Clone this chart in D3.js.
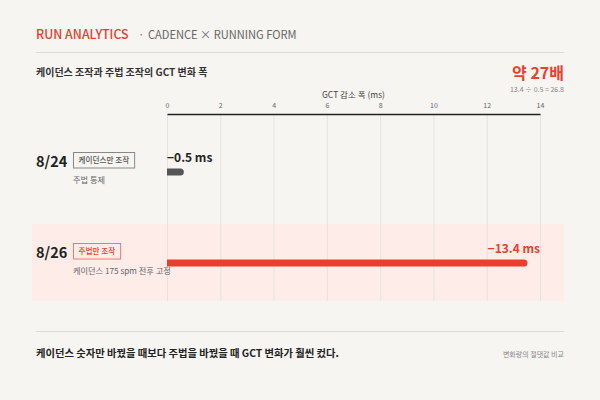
<!DOCTYPE html>
<html>
<head>
<meta charset="utf-8">
<script src="https://cdn.jsdelivr.net/npm/d3@7"></script>
<style>
  html, body { margin: 0; padding: 0; background: #f6f5f2; }
  svg { display: block; font-family: "Noto Sans CJK KR", "Noto Sans", sans-serif; }
</style>
</head>
<body>
<svg id="chart"></svg>
<script>
const dates = ["8/24", "8/26"];
const badges = ["케이던스만 조작", "주법만 조작"];
const notes = ["주법 통제", "케이던스 175 spm 전후 고정"];
const gctDrop = [0.5, 13.4];
const valueLabels = ["−0.5 ms", "−13.4 ms"];
const tickValues = [0, 2, 4, 6, 8, 10, 12, 14];

const RED = "#e5412d";

drawChart();

function drawChart() {
    const width = 600, height = 400;
    const svg = d3.select("#chart").attr("width", width).attr("height", height);

    svg.append("rect").attr("width", width).attr("height", height).attr("fill", "#f6f5f2");

    // header
    svg.append("text").attr("x", 36).attr("y", 39).attr("font-size", 12.4).attr("font-weight", 500)
        .attr("fill", RED).text("RUN ANALYTICS");
    svg.append("text").attr("x", 138).attr("y", 39).attr("font-size", 11.5).attr("fill", "#777").text("·");
    svg.append("text").attr("x", 148).attr("y", 39).attr("font-size", 11.1).attr("fill", "#666")
        .text("CADENCE × RUNNING FORM");

    svg.append("line").attr("x1", 36).attr("x2", 564).attr("y1", 52.5).attr("y2", 52.5)
        .attr("stroke", "#dddad5").attr("stroke-width", 1);

    svg.append("text").attr("x", 36).attr("y", 75.5).attr("font-size", 10).attr("font-weight", 700)
        .attr("fill", "#333").text("케이던스 조작과 주법 조작의 GCT 변화 폭");

    svg.append("text").attr("x", 564).attr("y", 78.5).attr("text-anchor", "end")
        .attr("font-size", 16).attr("font-weight", 700).attr("fill", RED).text("약 27배");
    svg.append("text").attr("x", 564).attr("y", 91.5).attr("text-anchor", "end")
        .attr("font-size", 7).attr("fill", "#888").text("13.4 ÷ 0.5 = 26.8");

    // scales
    const x = d3.scaleLinear().domain([0, 14]).range([167, 540]);
    const y = d3.scaleBand().domain(dates).range([133, 315]);
    const plotBottom = 301;

    // highlight band for the second row
    svg.append("rect")
        .attr("x", 32).attr("width", 532)
        .attr("y", y(dates[1])).attr("height", plotBottom - y(dates[1]))
        .attr("fill", "#fdece8");

    // grid
    svg.append("g").selectAll("line").data(tickValues).join("line")
        .attr("x1", d => x(d) + 0.5).attr("x2", d => x(d) + 0.5)
        .attr("y1", 114).attr("y2", plotBottom)
        .attr("stroke", "#e6e3de").attr("stroke-width", 1);

    // axis
    const axis = svg.append("g").attr("transform", "translate(0,114)")
        .call(d3.axisTop(x).tickValues(tickValues).tickSize(0).tickSizeOuter(0).tickPadding(6));
    axis.select(".domain").attr("stroke", "#222").attr("stroke-width", 1.6);
    axis.selectAll(".tick text").attr("font-size", 7).attr("fill", "#666")
        .attr("font-family", "'Noto Sans CJK KR', sans-serif");

    svg.append("text").attr("x", (x(0) + x(14)) / 2).attr("y", 97.5).attr("text-anchor", "middle")
        .attr("font-size", 8.5).attr("fill", "#444").text("GCT 감소 폭 (ms)");

    // rows
    const rows = svg.append("g").selectAll("g").data(dates).join("g")
        .attr("transform", d => `translate(0,${y(d)})`);

    rows.append("text").attr("x", 36).attr("y", 34).attr("font-size", 14.5).attr("font-weight", 700)
        .attr("fill", "#222").text(d => d);

    rows.each(function (d, i) {
        const g = d3.select(this);
        const col = i === 1 ? RED : "#555";
        const t = g.append("text").attr("x", 78.5).attr("y", 30)
            .attr("font-size", 7.6).attr("font-weight", 500).attr("fill", col).text(badges[i]);
        const w = t.node().getComputedTextLength();
        g.insert("rect", "text:last-of-type")
            .attr("x", 73.5).attr("y", 19.5).attr("width", w + 10.5).attr("height", 15.5)
            .attr("fill", "none").attr("stroke", i === 1 ? "#ec7a6a" : "#888").attr("stroke-width", 1);

        g.append("text").attr("x", 73).attr("y", 50).attr("font-size", 8.2).attr("fill", "#666")
            .text(notes[i]);

        // bar: flat start, round end
        const h = 7, x0 = x(0), x1 = x(gctDrop[i]), cy = 39;
        g.append("path")
            .attr("d", `M${x0},${cy - h / 2}H${x1}A${h / 2},${h / 2} 0 0 1 ${x1},${cy + h / 2}H${x0}Z`)
            .attr("fill", i === 1 ? "#ea3f2b" : "#555");

        const longBar = gctDrop[i] > 7;
        g.append("text")
            .attr("x", longBar ? x1 + 16 : x0)
            .attr("y", 28.5)
            .attr("text-anchor", longBar ? "end" : "start")
            .attr("font-size", 12).attr("font-weight", 700)
            .attr("fill", i === 1 ? RED : "#222")
            .text(valueLabels[i]);
    });

    // footer
    svg.append("line").attr("x1", 36).attr("x2", 564).attr("y1", 331.5).attr("y2", 331.5)
        .attr("stroke", "#dddad5").attr("stroke-width", 1);
    svg.append("text").attr("x", 36).attr("y", 357).attr("font-size", 10.3).attr("font-weight", 700)
        .attr("fill", "#222").text("케이던스 숫자만 바꿨을 때보다 주법을 바꿨을 때 GCT 변화가 훨씬 컸다.");
    svg.append("text").attr("x", 564).attr("y", 357).attr("text-anchor", "end")
        .attr("font-size", 7).attr("fill", "#888").text("변화량의 절댓값 비교");
}
</script>
</body>
</html>
